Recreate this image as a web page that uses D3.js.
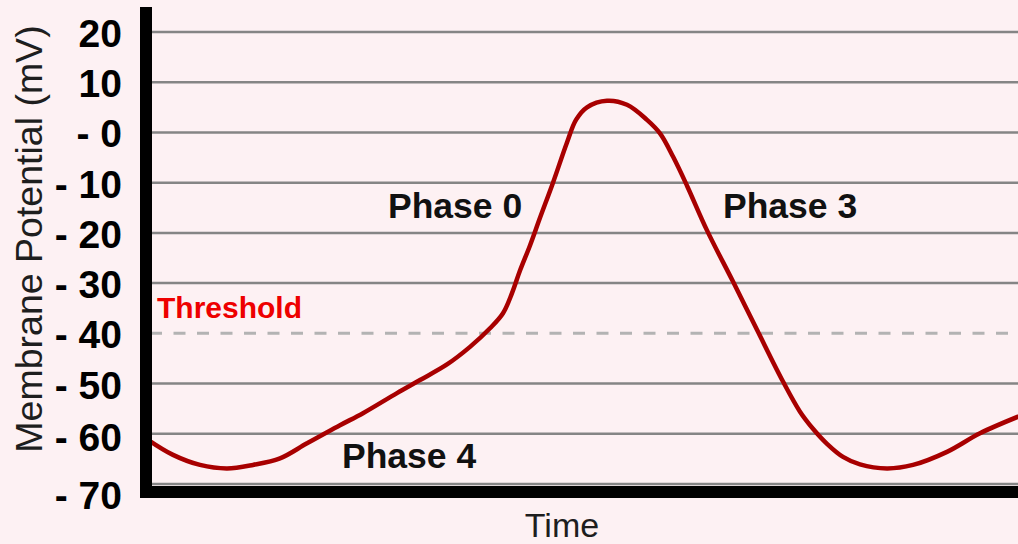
<!DOCTYPE html>
<html>
<head>
<meta charset="utf-8">
<script src="https://cdn.jsdelivr.net/npm/d3@7"></script>
<style>
  html, body { margin: 0; padding: 0; background: #fdf1f3; }
  svg { display: block; font-family: "Liberation Sans", Arial, sans-serif; }
</style>
</head>
<body>
<div id="chart"></div>
<script>
// membrane potential trace (time in arbitrary units, mV)
const times = [0, 25, 52, 79, 105, 132, 159, 192, 215, 249, 272, 299, 322, 342, 355, 364, 372, 382,
  392, 405, 419, 428, 439, 459, 479, 499, 512, 525, 539, 559, 585, 609, 635, 652, 665,
  679, 695, 712, 739, 765, 799, 832, 870];
const potentials = [-61.2, -64.2, -66.2, -66.9, -66.2, -64.9, -61.9, -58.3, -55.9, -51.9, -49.3, -46.2,
  -42.7, -39.0, -36.0, -32.0, -27.5, -22.5, -17.0, -10.0, -2.0, 2.5, 5.0, 6.3, 5.5, 2.5, -0.2,
  -4.8, -10.6, -19.5, -29.7, -39.3, -49.6, -55.6, -59.0, -62.0, -64.6, -66.1, -66.9, -66.2,
  -63.6, -59.9, -56.6];

const tickValues = [20, 10, 0, -10, -20, -30, -40, -50, -60, -70];
const tickLabels = ["20", "10", "- 0", "- 10", "- 20", "- 30", "- 40", "- 50", "- 60", "- 70"];
const threshold = -40;

const phaseLabels = ["Phase 0", "Phase 3", "Phase 4"];
const phaseTimes = [240, 575, 194];
const phaseValues = [-17.0, -17.0, -66.8];

const width = 1018;
const height = 544;
const left = 148, right = 1018;

const x = d3.scaleLinear().domain([0, 870]).range([left, right]);
const y = d3.scaleLinear().domain([-70, 20]).range([484, 32]);

const svg = d3.select("#chart")
    .append("svg")
    .attr("width", width)
    .attr("height", height);

svg.append("rect")
    .attr("width", width)
    .attr("height", height)
    .attr("fill", "#fdf1f3");

// horizontal grid lines (threshold gets its own dashed line)
svg.selectAll(".grid")
    .data(tickValues.filter(d => d !== threshold))
    .enter()
    .append("line")
    .attr("class", "grid")
    .attr("x1", 152)
    .attr("x2", width)
    .attr("y1", d => y(d))
    .attr("y2", d => y(d))
    .attr("stroke", "#858585")
    .attr("stroke-width", 2.5);

svg.append("line")
    .attr("x1", 150)
    .attr("x2", width)
    .attr("y1", y(threshold))
    .attr("y2", y(threshold))
    .attr("stroke", "#b3b3b3")
    .attr("stroke-width", 3)
    .attr("stroke-dasharray", "12,11.5");

svg.append("text")
    .attr("x", x(9))
    .attr("y", y(-37))
    .attr("font-size", 30)
    .attr("font-weight", "bold")
    .attr("fill", "#ee0000")
    .text("Threshold");

// the trace
const line = d3.line()
    .x((d, i) => x(times[i]))
    .y(d => y(d))
    .curve(d3.curveCatmullRom.alpha(0.5));

svg.append("path")
    .datum(potentials)
    .attr("d", line)
    .attr("fill", "none")
    .attr("stroke", "#a80000")
    .attr("stroke-width", 4.5)
    .attr("stroke-linejoin", "round")
    .attr("stroke-linecap", "round");

// phase annotations
svg.selectAll(".phase")
    .data(phaseLabels)
    .enter()
    .append("text")
    .attr("class", "phase")
    .attr("x", (d, i) => x(phaseTimes[i]))
    .attr("y", (d, i) => y(phaseValues[i]))
    .attr("font-size", 35.5)
    .attr("font-weight", "bold")
    .attr("fill", "#111")
    .text(d => d);

// thick L-shaped axes
svg.append("line")
    .attr("x1", 146).attr("x2", 146)
    .attr("y1", 7).attr("y2", 498)
    .attr("stroke", "#000")
    .attr("stroke-width", 12);

svg.append("line")
    .attr("x1", 140).attr("x2", width)
    .attr("y1", 492).attr("y2", 492)
    .attr("stroke", "#000")
    .attr("stroke-width", 12);

// tick labels via d3 axis
const yAxis = d3.axisLeft(y)
    .tickValues(tickValues)
    .tickFormat((d, i) => tickLabels[i])
    .tickSize(0)
    .tickPadding(0);

const axisG = svg.append("g")
    .attr("transform", "translate(122,2)")
    .call(yAxis);

axisG.select(".domain").remove();
axisG.selectAll("text")
    .attr("font-size", 39)
    .attr("font-weight", "bold")
    .attr("font-family", "'Liberation Sans', Arial, sans-serif")
    .attr("fill", "#000");

// bottom labels sit a little lower in the original
axisG.selectAll(".tick")
    .filter(d => d === -70)
    .select("text")
    .attr("y", 10);
axisG.selectAll(".tick")
    .filter(d => d === -60)
    .select("text")
    .attr("y", 2);

// axis titles
svg.append("text")
    .attr("transform", "translate(42,239) rotate(-90)")
    .attr("text-anchor", "middle")
    .attr("font-size", 37.5)
    .attr("fill", "#1e1e1e")
    .text("Membrane Potential (mV)");

svg.append("text")
    .attr("x", 562)
    .attr("y", 537)
    .attr("text-anchor", "middle")
    .attr("font-size", 34)
    .attr("fill", "#1e1e1e")
    .text("Time");
</script>
</body>
</html>
